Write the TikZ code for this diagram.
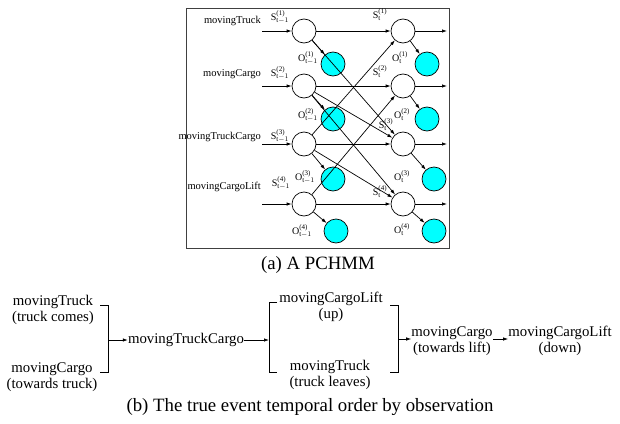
\documentclass[tikz,border=0pt]{standalone}
\usepackage{fontspec}
\setmainfont{Liberation Serif}
\usepackage{amsmath}
\usetikzlibrary{arrows.meta}

\definecolor{obscyan}{RGB}{0,255,255}
\tikzset{
  st/.style={circle,draw,line width=0.7pt,minimum size=24pt,inner sep=0pt},
  ob/.style={st,fill=obscyan},
  arr/.style={-{Latex[length=5pt,width=3.4pt]},line width=0.7pt},
  lbl/.style={font=\fontsize{10.5}{12}\selectfont,inner sep=0pt},
  sym/.style={font=\fontsize{10}{11}\selectfont,inner sep=0pt},
  ev/.style={font=\fontsize{14.8}{16.5}\selectfont,align=center,inner sep=0pt},
  captext/.style={font=\fontsize{18.8}{20}\selectfont,inner sep=0pt}
}
\newcommand{\sv}[3]{#1$^{\text{(#2)}}_{#3}$}

\begin{document}
\begin{tikzpicture}[x=1pt,y=-1pt]
\useasboundingbox (0,0) rectangle (620,423);

% --- (a) the PCHMM ---
\draw[black!75,line width=0.9pt] (186,8) rectangle (449,248);

\foreach \i/\y/\oy/\oxa/\oxb in {1/31/64/333/427,2/86/119/333/427,3/144/179/333/434,4/204/231/336/434} {
  \node[st] (sa\i) at (304,\y) {};
  \node[st] (sb\i) at (403,\y) {};
  \node[ob] (oa\i) at (\oxa,\oy) {};
  \node[ob] (ob\i) at (\oxb,\oy) {};
  \coordinate (in\i) at (262,\y);
  \coordinate (out\i) at (447,\y);
}

\foreach \i in {1,2,3,4} {
  \draw[arr] (in\i) -- (sa\i);
  \draw[arr] (sa\i) -- (sb\i);
  \draw[arr] (sb\i) -- (out\i);
  \draw[arr] (sa\i) -- (oa\i);
  \draw[arr] (sb\i) -- (ob\i);
}

% coupling between the chains
\foreach \a/\b in {1/3,2/3,2/4,3/1,3/4,4/2} \draw[arr] (sa\a) -- (sb\b);

% chain names
\node[lbl,anchor=east] (na1) at (261,21) {movingTruck};
\node[lbl,anchor=east] (na2) at (261,74) {movingCargo};
\node[lbl,anchor=east] (na3) at (261,137) {movingTruckCargo};
\node[lbl,anchor=east] (na4) at (261,187) {movingCargoLift};

% state and observation symbols
\node[sym] (la1) at (280,17) {\sv{S}{1}{\text{t}-1}};
\node[sym] (la2) at (280,73) {\sv{S}{2}{\text{t}-1}};
\node[sym] (la3) at (280,136) {\sv{S}{3}{\text{t}-1}};
\node[sym] (la4) at (281,183) {\sv{S}{4}{\text{t}-1}};
\node[sym] (lb1) at (380,15) {\sv{S}{1}{\text{t}}};
\node[sym] (lb2) at (380,72) {\sv{S}{2}{\text{t}}};
\node[sym] (lb3) at (386,125) {\sv{S}{3}{\text{t}}};
\node[sym] (lb4) at (380,192) {\sv{S}{4}{\text{t}}};
\node[sym] (pa1) at (308,58) {\sv{O}{1}{\text{t}-1}};
\node[sym] (pa2) at (308,115) {\sv{O}{2}{\text{t}-1}};
\node[sym] (pa3) at (305,177) {\sv{O}{3}{\text{t}-1}};
\node[sym] (pa4) at (302,231) {\sv{O}{4}{\text{t}-1}};
\node[sym] (pb1) at (400,58) {\sv{O}{1}{\text{t}}};
\node[sym] (pb2) at (402,115) {\sv{O}{2}{\text{t}}};
\node[sym] (pb3) at (402,177) {\sv{O}{3}{\text{t}}};
\node[sym] (pb4) at (402,230) {\sv{O}{4}{\text{t}}};

\node[captext] (capa) at (318,265) {(a) A PCHMM};

% --- (b) temporal order ---
\node[ev] (e1) at (53,310) {movingTruck\\(truck comes)};
\node[ev] (e2) at (52,377) {movingCargo\\(towards truck)};
\node[ev] (e3) at (186,340) {movingTruckCargo};
\node[ev] (e4) at (331,307) {movingCargoLift\\(up)};
\node[ev] (e5) at (330,375) {movingTruck\\(truck leaves)};
\node[ev] (e6) at (452,341) {movingCargo\\(towards lift)};
\node[ev] (e7) at (560,341) {movingCargoLift\\(down)};

% brackets
\coordinate (k1a) at (100,305);
\coordinate (k1b) at (108,305);
\coordinate (k1c) at (108,372);
\coordinate (k1d) at (100,372);
\coordinate (j1) at (108,340);
\draw[line width=0.7pt] (k1a) -- (k1b) -- (k1c) -- (k1d);

\coordinate (k2a) at (277,302);
\coordinate (k2b) at (269,302);
\coordinate (k2c) at (269,372);
\coordinate (k2d) at (277,372);
\coordinate (j2) at (269,340);
\draw[line width=0.7pt] (k2a) -- (k2b) -- (k2c) -- (k2d);

\coordinate (k3a) at (390,305);
\coordinate (k3b) at (398,305);
\coordinate (k3c) at (398,372);
\coordinate (k3d) at (390,372);
\coordinate (j3) at (398,339);
\draw[line width=0.7pt] (k3a) -- (k3b) -- (k3c) -- (k3d);

\draw[arr] (j1) -- (e3);
\draw[arr] (e3) -- (j2);
\draw[arr] (j3) -- (e6.west |- j3);
\draw[arr] (e6.east |- j3) -- (e7.west |- j3);

\node[captext] (capb) at (310,407) {(b) The true event temporal order by observation};
\end{tikzpicture}
\end{document}
